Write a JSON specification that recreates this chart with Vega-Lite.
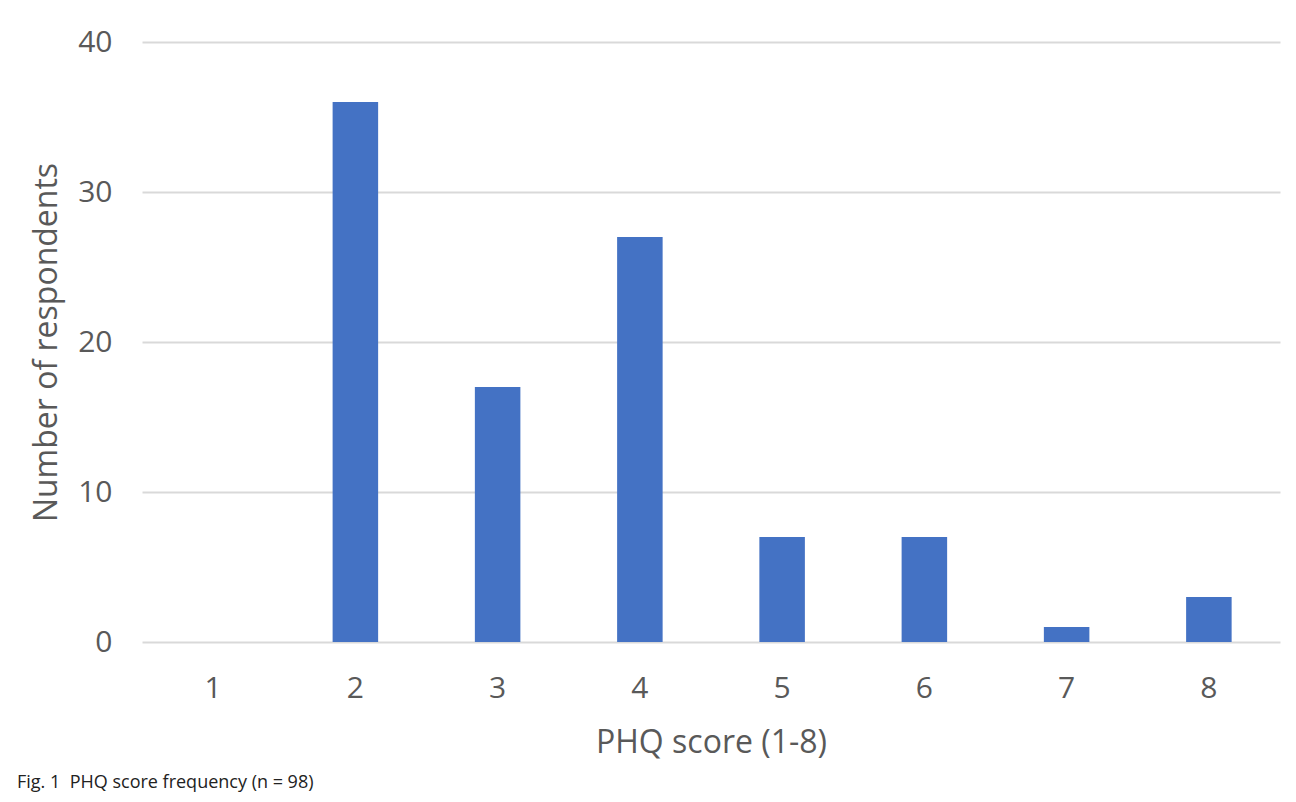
{
  "$schema": "https://vega.github.io/schema/vega-lite/v6.json",
  "autosize": {"type": "none"},
  "padding": {"left": 142, "top": 42, "right": 16, "bottom": 160},
  "width": 1138,
  "height": 600,
  "background": "white",
  "config": {
    "view": {"stroke": null},
    "font": "Open Sans"
  },
  "title": {
    "text": "Fig. 1\u00a0\u00a0PHQ score frequency (n\u00a0=\u00a098)",
    "orient": "bottom",
    "anchor": "start",
    "frame": "group",
    "font": "Open Sans",
    "fontSize": 18,
    "fontWeight": "normal",
    "color": "#222222",
    "dx": -125,
    "offset": 16
  },
  "data": {
    "values": [
      {"score": "1", "count": 0},
      {"score": "2", "count": 36},
      {"score": "3", "count": 17},
      {"score": "4", "count": 27},
      {"score": "5", "count": 7},
      {"score": "6", "count": 7},
      {"score": "7", "count": 1},
      {"score": "8", "count": 3}
    ]
  },
  "mark": {"type": "bar", "color": "#4472c4"},
  "encoding": {
    "x": {
      "field": "score",
      "type": "ordinal",
      "sort": null,
      "scale": {"paddingInner": 0.68, "paddingOuter": 0.34},
      "axis": {
        "title": "PHQ score (1-8)",
        "labelAngle": 0,
        "labelFontSize": 30,
        "labelColor": "#595959",
        "labelPadding": 31,
        "ticks": false,
        "domain": false,
        "titleFontSize": 32,
        "titleFontWeight": "normal",
        "titleColor": "#595959",
        "titlePadding": 24
      }
    },
    "y": {
      "field": "count",
      "type": "quantitative",
      "scale": {"domain": [0, 40]},
      "axis": {
        "title": "Number of respondents",
        "values": [0, 10, 20, 30, 40],
        "labelFontSize": 30,
        "labelColor": "#595959",
        "labelPadding": 30,
        "ticks": false,
        "domain": false,
        "grid": true,
        "gridColor": "#d9d9d9",
        "gridWidth": 2,
        "titleFontSize": 32,
        "titleFontWeight": "normal",
        "titleColor": "#595959",
        "titlePadding": 14
      }
    }
  }
}
